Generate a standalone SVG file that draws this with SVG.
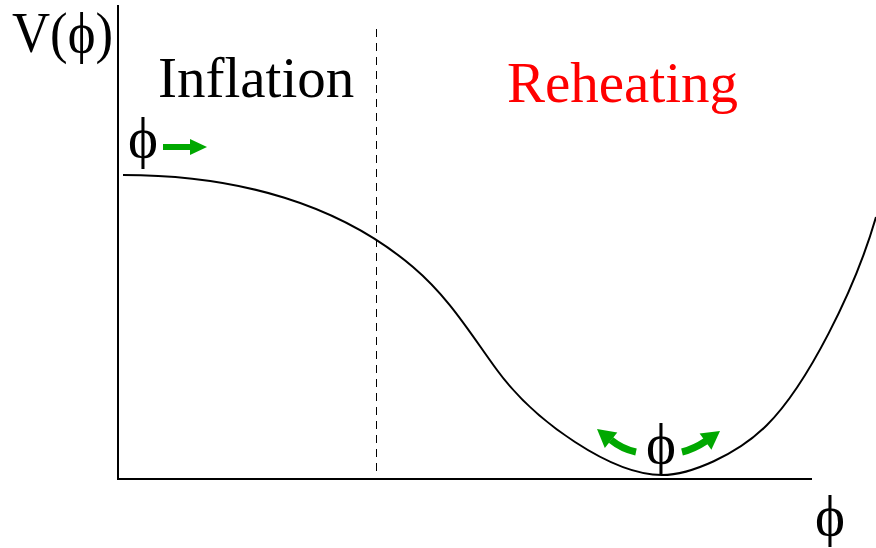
<svg xmlns="http://www.w3.org/2000/svg" width="876" height="548" viewBox="0 0 876 548">
<style>
.t{font-family:"Liberation Serif","Times New Roman",serif;font-size:57px;fill:#000}
.red{fill:#ff0000}
.ax{stroke:#000;stroke-width:2;fill:none}
.curve{stroke:#000;stroke-width:2;fill:none}
.dash{stroke:#000;stroke-width:1;stroke-dasharray:8,6;fill:none}
.gs{stroke:#00a800;stroke-width:7;fill:none}
.gh{fill:#00a800}
</style>
<rect width="876" height="548" fill="#fff"/>
<g id="axes">
<line class="ax" x1="118" y1="5" x2="118" y2="480"/>
<line class="ax" x1="117" y1="479" x2="812" y2="479"/>
</g>
<g id="divider">
<line class="dash" x1="376.5" y1="29" x2="376.5" y2="472"/>
</g>
<g id="potential">
<path class="curve" d="M123,175 C240,175 340,205 413,267 C449,297.6 470,333 497,370 C535,422 612,475 662,475 C690,475 737,455 767,425 C807,385 855,290 876,217"/>
</g>
<g id="labels">
<text class="t" x="12" y="52" textLength="101" lengthAdjust="spacingAndGlyphs">V(ϕ)</text>
<text class="t" x="158" y="97">Inflation</text>
<text class="t red" x="507" y="102">Reheating</text>
<text class="t" x="815" y="535">ϕ</text>
</g>
<g id="field-start">
<text class="t" x="128" y="157">ϕ</text>
<rect class="gh" x="163" y="144" width="28" height="6"/>
<polygon class="gh" points="190,139 207,147 190,155"/>
</g>
<g id="field-oscillating">
<text class="t" x="646" y="463">ϕ</text>
<path class="gs" d="M636,452 Q622,449 611,440"/>
<polygon class="gh" points="597,429 617.3,432.5 604.8,448"/>
<path class="gs" d="M682,452 Q694,449 706,441"/>
<polygon class="gh" points="720,431 711.4,449.7 699.6,433.5"/>
</g>
</svg>
